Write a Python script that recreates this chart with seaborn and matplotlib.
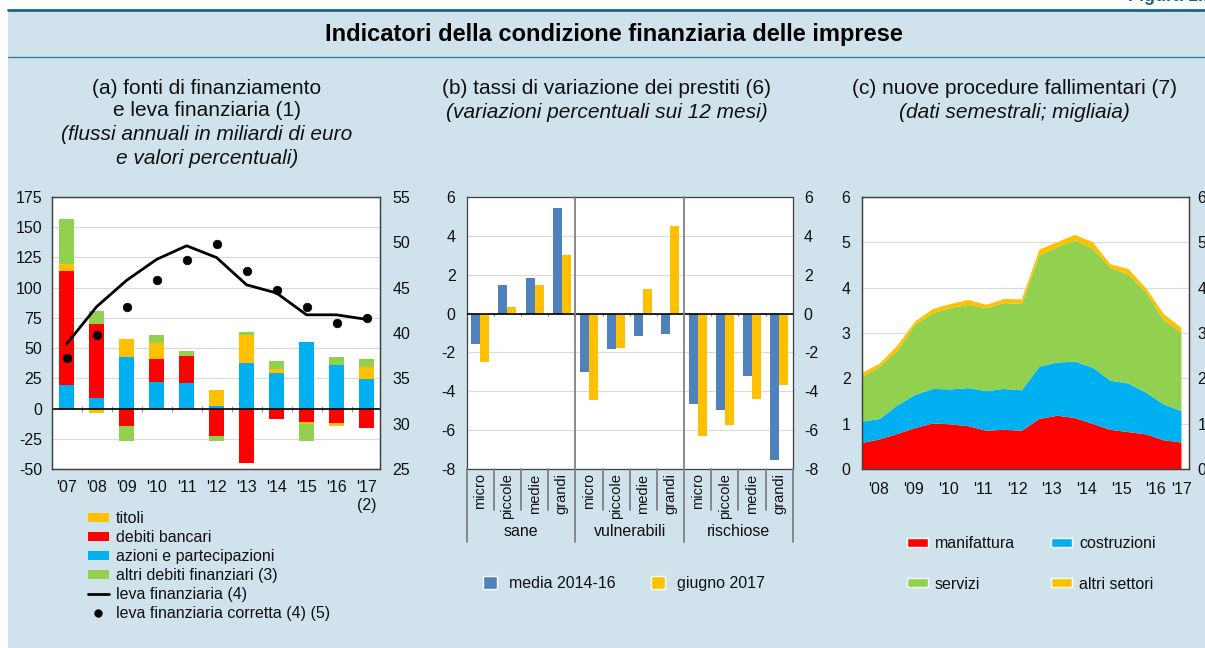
import numpy as np
import pandas as pd
import matplotlib
matplotlib.use("Agg")
import matplotlib.pyplot as plt
import matplotlib.transforms as mtransforms
from matplotlib.patches import Patch, Rectangle
from matplotlib.lines import Line2D
import seaborn as sns

# ---------------- data ----------------
# panel (a)
anni_a = ["'07", "'08", "'09", "'10", "'11", "'12", "'13", "'14", "'15", "'16", "'17\n(2)"]
azioni = [19.5, 9.0, 42.9, 22.0, 20.9, 2.5, 38.0, 29.2, 54.7, 35.8, 24.8]
debiti_bancari = [94.5, 61.0, -14.0, 19.3, 22.3, -22.3, -45.0, -8.3, -11.0, -11.5, -15.7]
titoli = [5.8, -3.3, 14.6, 12.6, 0.0, 13.2, 23.0, 3.8, -2.0, -2.5, 9.6]
altri_debiti = [37.0, 11.0, -13.0, 6.6, 4.7, -4.7, 2.5, 6.0, -13.7, 6.6, 6.9]
leva = [38.8, 42.9, 45.8, 48.1, 49.6, 48.3, 45.3, 44.4, 42.0, 42.0, 41.5]
leva_corretta = [37.3, 39.8, 42.9, 45.8, 48.0, 49.8, 46.8, 44.7, 42.9, 41.1, 41.6]

# panel (b)
gruppi_b = ["sane", "vulnerabili", "rischiose"]
classi_b = ["micro", "piccole", "medie", "grandi"]
media_2014_16 = [-1.56, 1.44, 1.80, 5.41, -3.01, -1.83, -1.13, -1.04, -4.67, -4.93, -3.23, -7.50]
giugno_2017 = [-2.50, 0.31, 1.45, 3.03, -4.43, -1.75, 1.25, 4.47, -6.28, -5.72, -4.40, -3.66]

# panel (c) semestral, 2008 H1 - 2017 H1
anni_c = ["'08", "'09", "'10", "'11", "'12", "'13", "'14", "'15", "'16", "'17"]
manifattura = [0.59, 0.67, 0.79, 0.92, 1.02, 1.00, 0.96, 0.86, 0.88, 0.86, 1.12, 1.19, 1.14, 1.01, 0.88, 0.83, 0.78, 0.65, 0.60]
costruzioni = [0.47, 0.45, 0.63, 0.73, 0.76, 0.77, 0.84, 0.87, 0.90, 0.89, 1.15, 1.17, 1.24, 1.24, 1.08, 1.07, 0.92, 0.79, 0.69]
servizi = [0.98, 1.15, 1.21, 1.55, 1.67, 1.79, 1.83, 1.83, 1.89, 1.90, 2.45, 2.54, 2.67, 2.62, 2.48, 2.40, 2.21, 1.86, 1.72]
altri_settori = [0.09, 0.07, 0.11, 0.07, 0.09, 0.09, 0.11, 0.07, 0.09, 0.10, 0.13, 0.11, 0.12, 0.14, 0.08, 0.12, 0.09, 0.13, 0.11]

# ---------------- style ----------------
BG = "#d0e2ec"
DARK = "#1c6488"
YEL = "#ffc000"
RED = "#ff0000"
CYAN = "#00b0f0"
GREEN = "#92d050"
BLUE_B = "#4f81bd"
GRID = "#d9d9d9"
SPINE = "#404040"
FS_TICK = 11.5
FS_LEG = 11.5
FS_SUB = 15

sns.set_style("white")
plt.rcParams["font.family"] = ["Liberation Sans", "DejaVu Sans"]
plt.rcParams["axes.unicode_minus"] = False
plt.rcParams["text.color"] = "#111111"
plt.rcParams["xtick.color"] = "#111111"
plt.rcParams["ytick.color"] = "#111111"

W, H = 1205, 648
fig = plt.figure(figsize=(W / 100, H / 100), dpi=100, facecolor="white")


def fx(px):
    return px / W


def fy(py):
    return 1 - py / H


fig.patches.append(Rectangle((fx(8), 0), 1 - fx(8), fy(10), transform=fig.transFigure,
                             facecolor=BG, edgecolor="none", zorder=-5))
fig.add_artist(Line2D([fx(8), 1], [fy(10), fy(10)], color=DARK, lw=2.0, zorder=-4))
fig.add_artist(Line2D([fx(8), 1], [fy(57), fy(57)], color="#3a7aa0", lw=1.0, zorder=-4))
fig.text(fx(1128), fy(5), "Figura 1.1", color=DARK, fontsize=13, fontweight="bold",
         ha="left", va="bottom")
fig.text(fx(614), fy(35), "Indicatori della condizione finanziaria delle imprese",
         fontsize=17, fontweight="bold", ha="center", va="center", color="black")

# subtitles
fig.text(fx(207), fy(88), "(a) fonti di finanziamento", fontsize=FS_SUB, ha="center", va="center")
fig.text(fx(207), fy(111), "e leva finanziaria (1)", fontsize=FS_SUB, ha="center", va="center")
fig.text(fx(207), fy(135), "(flussi annuali in miliardi di euro", fontsize=FS_SUB, ha="center",
         va="center", style="italic")
fig.text(fx(207), fy(159), "e valori percentuali)", fontsize=FS_SUB, ha="center", va="center",
         style="italic")
fig.text(fx(607), fy(88), "(b) tassi di variazione dei prestiti (6)", fontsize=FS_SUB,
         ha="center", va="center")
fig.text(fx(607), fy(112), "(variazioni percentuali sui 12 mesi)", fontsize=FS_SUB,
         ha="center", va="center", style="italic")
fig.text(fx(1014), fy(88), "(c) nuove procedure fallimentari (7)", fontsize=FS_SUB,
         ha="center", va="center")
fig.text(fx(1014), fy(112), "(dati semestrali; migliaia)", fontsize=FS_SUB,
         ha="center", va="center", style="italic")

TOP, BOT = 196.7, 469.3


def make_ax(left, right):
    ax = fig.add_axes([fx(left), fy(BOT), fx(right) - fx(left), (BOT - TOP) / H])
    ax.set_facecolor("white")
    for s in ax.spines.values():
        s.set_color(SPINE)
        s.set_linewidth(0.9)
    return ax


# ---------------- panel (a) ----------------
ax_a = make_ax(51.7, 380.0)
x_a = np.arange(len(anni_a))
n = len(anni_a)
pos_b = np.zeros(n)
neg_b = np.zeros(n)
for vals, col in [(azioni, CYAN), (debiti_bancari, RED), (titoli, YEL), (altri_debiti, GREEN)]:
    v = np.array(vals, dtype=float)
    bottom = np.where(v >= 0, pos_b, neg_b)
    ax_a.bar(x_a, v, width=0.49, bottom=bottom, color=col, zorder=2, linewidth=0)
    pos_b += np.where(v > 0, v, 0)
    neg_b += np.where(v < 0, v, 0)
ax_a.set_ylim(-50, 175)
ax_a.set_yticks(np.arange(-50, 176, 25))
ax_a.set_xlim(-0.5, 10.45)
ax_a.set_xticks(x_a)
ax_a.set_xticklabels(anni_a, fontsize=FS_TICK)
ax_a.yaxis.grid(True, color=GRID, lw=0.8)
ax_a.set_axisbelow(True)
ax_a.axhline(0, color="black", lw=1.2, zorder=3)
ax_a.vlines(x_a[:-1] + 0.5, -2.5, 2.5, color="#999999", lw=0.8, zorder=1)
ax_a.tick_params(axis="both", length=0, labelsize=FS_TICK)
ax_a.tick_params(axis="y", pad=7)
ax_a.tick_params(axis="x", pad=8)

ax_a2 = ax_a.twinx()
sns.lineplot(x=x_a, y=leva, ax=ax_a2, color="black", lw=2.0, zorder=4)
sns.scatterplot(x=x_a, y=leva_corretta, ax=ax_a2, color="black", s=38, edgecolor="black",
                zorder=5)
ax_a2.set_ylim(25, 55)
ax_a2.set_yticks(np.arange(25, 56, 5))
ax_a2.tick_params(axis="y", length=0, labelsize=FS_TICK, pad=9)
ax_a2.set_ylabel("")
for s in ax_a2.spines.values():
    s.set_color(SPINE)
    s.set_linewidth(0.9)

leg_a_handles = [
    Patch(facecolor=YEL, edgecolor="none"),
    Patch(facecolor=RED, edgecolor="none"),
    Patch(facecolor=CYAN, edgecolor="none"),
    Patch(facecolor=GREEN, edgecolor="none"),
    Line2D([0], [0], color="black", lw=2),
    Line2D([0], [0], color="black", marker="o", ms=5, ls="none"),
]
leg_a_labels = ["titoli", "debiti bancari", "azioni e partecipazioni",
                "altri debiti finanziari (3)", "leva finanziaria (4)",
                "leva finanziaria corretta (4) (5)"]
fig.legend(leg_a_handles, leg_a_labels, loc="upper left", bbox_to_anchor=(fx(88), fy(511)),
           frameon=False, fontsize=FS_LEG, handlelength=1.3, handleheight=0.5,
           handletextpad=0.45, labelspacing=0.25, borderpad=0, borderaxespad=0)

# ---------------- panel (b) ----------------
ax_b = make_ax(466.7, 792.7)
etichette_b = [c for g in gruppi_b for c in classi_b]
pos = np.arange(len(etichette_b))
df_b = pd.DataFrame({
    "pos": np.concatenate([pos, pos]),
    "valore": media_2014_16 + giugno_2017,
    "serie": ["media 2014-16"] * len(pos) + ["giugno 2017"] * len(pos),
})
sns.barplot(data=df_b, x="pos", y="valore", hue="serie", palette=[BLUE_B, YEL], width=0.66,
            saturation=1, errorbar=None, legend=False, ax=ax_b, zorder=2, linewidth=0)
ax_b.set_xlim(-0.5, 11.5)
ax_b.set_ylim(-8, 6)
ax_b.set_yticks(np.arange(-8, 7, 2))
ax_b.set_xticks(pos)
ax_b.set_xticklabels(etichette_b, rotation=90, fontsize=10.5, va="top")
ax_b.set_xlabel("")
ax_b.set_ylabel("")
ax_b.yaxis.grid(True, color=GRID, lw=0.8)
ax_b.set_axisbelow(True)
ax_b.axhline(0, color="black", lw=1.2, zorder=3)
ax_b.tick_params(axis="both", length=0, labelsize=FS_TICK)
ax_b.tick_params(axis="y", pad=8, labelright=True)
ax_b.tick_params(axis="x", pad=3, labelsize=10.5)
trans_b = mtransforms.blended_transform_factory(ax_b.transData, ax_b.transAxes)
bounds = np.arange(-0.5, 12, 1.0)
for b in bounds:
    is_group = int(round(b + 0.5)) % 4 == 0
    y0 = -0.266 if is_group else -0.149
    y1 = 1.0 if (is_group and -0.5 < b < 11.5) else 0.0
    ax_b.plot([b, b], [y0, y1], transform=trans_b, color="#808080", lw=1.3, clip_on=False,
              zorder=4)
ax_b.vlines(bounds[1:-1], -0.12, 0.0, color="#808080", lw=0.8, zorder=1)
for i, g in enumerate(gruppi_b):
    ax_b.text(i * 4 + 1.5, -0.229, g, transform=trans_b, ha="center", va="center",
              fontsize=FS_LEG)
ax_b.legend([Patch(facecolor=BLUE_B), Patch(facecolor=YEL)], ["media 2014-16", "giugno 2017"],
            loc="upper left", bbox_to_anchor=(fx(483), fy(576)),
            bbox_transform=fig.transFigure, ncol=2, frameon=False, fontsize=FS_LEG,
            handlelength=0.85, handleheight=0.85, handletextpad=0.8, columnspacing=2.2,
            borderpad=0, borderaxespad=0)

# ---------------- panel (c) ----------------
ax_c = make_ax(861.7, 1189.3)
x_c = np.arange(len(manifattura))
ax_c.stackplot(x_c, manifattura, costruzioni, servizi, altri_settori,
               colors=[RED, CYAN, GREEN, YEL], linewidth=0, zorder=2)
ax_c.set_xlim(0, 18.47)
ax_c.set_ylim(0, 6)
ax_c.set_yticks(np.arange(0, 7, 1))
ax_c.yaxis.grid(True, color=GRID, lw=0.8)
ax_c.set_axisbelow(True)
year_bounds = np.arange(len(anni_c)) * 1.95
label_pos = (year_bounds + np.append(year_bounds[1:], 18.47)) / 2
ax_c.set_xticks(year_bounds)
ax_c.set_xticklabels([])
ax_c.set_xticks(label_pos, minor=True)
ax_c.set_xticklabels(anni_c, minor=True, fontsize=FS_TICK)
ax_c.tick_params(axis="x", which="major", direction="out", length=15, width=1.0,
                 color="#707070")
ax_c.tick_params(axis="x", which="minor", length=0, pad=9, labelsize=FS_TICK)
ax_c.tick_params(axis="y", length=0, labelsize=FS_TICK, pad=8)
ax_c2 = ax_c.twinx()
ax_c2.set_ylim(0, 6)
ax_c2.set_yticks(np.arange(0, 7, 1))
ax_c2.tick_params(axis="y", length=0, labelsize=FS_TICK, pad=6)
for s in ax_c2.spines.values():
    s.set_color(SPINE)
    s.set_linewidth(0.9)
ax_c.legend([Patch(facecolor=RED), Patch(facecolor=GREEN), Patch(facecolor=CYAN),
             Patch(facecolor=YEL)],
            ["manifattura", "servizi", "costruzioni", "altri settori"],
            loc="upper left", bbox_to_anchor=(fx(907), fy(536)),
            bbox_transform=fig.transFigure, ncol=2, frameon=False, fontsize=FS_LEG,
            handlelength=1.3, handleheight=0.5, handletextpad=0.45, labelspacing=1.6,
            columnspacing=2.25, borderpad=0, borderaxespad=0)

fig.savefig("out.png", dpi=100, facecolor=fig.get_facecolor())
